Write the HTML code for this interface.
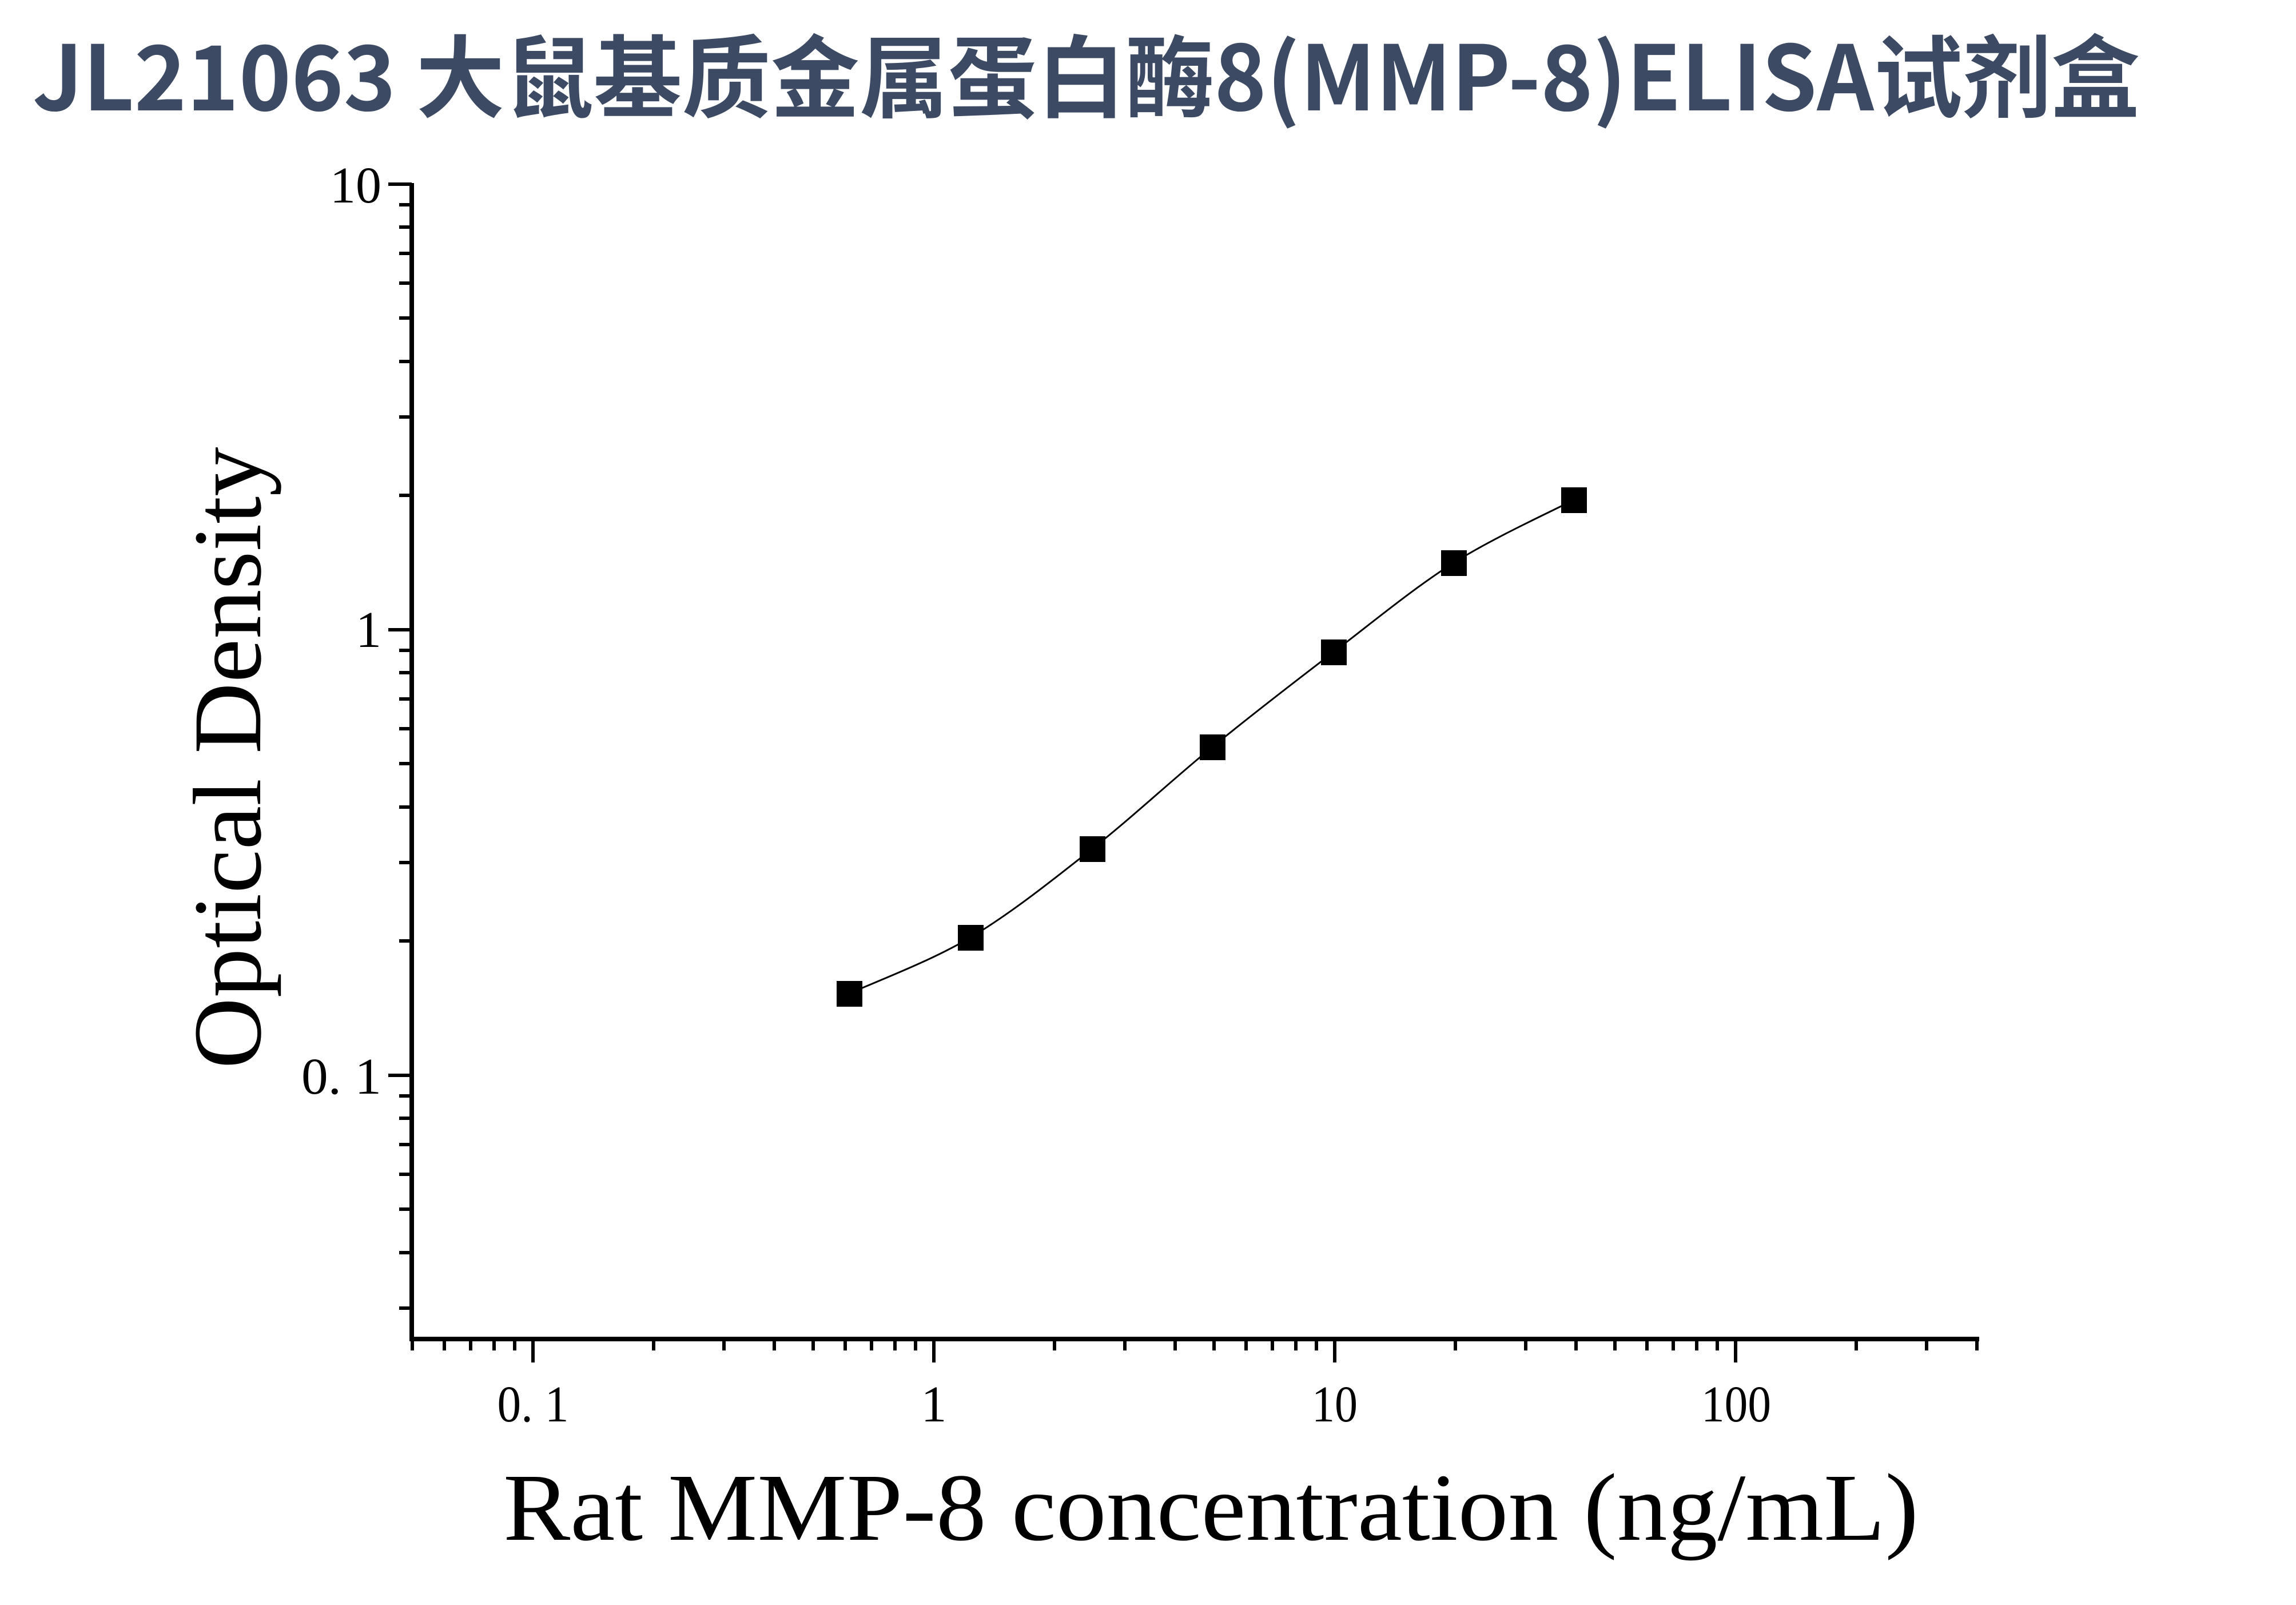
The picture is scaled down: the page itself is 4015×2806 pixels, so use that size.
<!DOCTYPE html>
<html><head><meta charset="utf-8"><style>html,body{margin:0;padding:0;background:#fff;}svg{display:block;}</style></head>
<body>
<svg xmlns="http://www.w3.org/2000/svg" width="4015" height="2806" viewBox="0 0 4015 2806">
<rect width="4015" height="2806" fill="#fff"/>
<text x="57" y="193" font-family="'Noto Sans CJK SC','Liberation Sans',sans-serif" font-weight="bold" font-size="157" fill="#3d4a63" textLength="3685" lengthAdjust="spacingAndGlyphs">JL21063 大鼠基质金属蛋白酶8(MMP-8)ELISA试剂盒</text>
<g stroke="#000" fill="none">
<line x1="720" y1="320" x2="720" y2="2345" stroke-width="8"/>
<line x1="716" y1="2341" x2="3461" y2="2341" stroke-width="8"/>
<g stroke-width="6">
<line x1="679" y1="322" x2="720" y2="322"/>
<line x1="679" y1="1101" x2="720" y2="1101"/>
<line x1="679" y1="1880" x2="720" y2="1880"/>
<line x1="698" y1="2287" x2="720" y2="2287"/>
<line x1="698" y1="2190" x2="720" y2="2190"/>
<line x1="698" y1="2114" x2="720" y2="2114"/>
<line x1="698" y1="2053" x2="720" y2="2053"/>
<line x1="698" y1="2001" x2="720" y2="2001"/>
<line x1="698" y1="1955" x2="720" y2="1955"/>
<line x1="698" y1="1916" x2="720" y2="1916"/>
<line x1="698" y1="1645" x2="720" y2="1645"/>
<line x1="698" y1="1508" x2="720" y2="1508"/>
<line x1="698" y1="1411" x2="720" y2="1411"/>
<line x1="698" y1="1335" x2="720" y2="1335"/>
<line x1="698" y1="1274" x2="720" y2="1274"/>
<line x1="698" y1="1222" x2="720" y2="1222"/>
<line x1="698" y1="1176" x2="720" y2="1176"/>
<line x1="698" y1="1137" x2="720" y2="1137"/>
<line x1="698" y1="866" x2="720" y2="866"/>
<line x1="698" y1="729" x2="720" y2="729"/>
<line x1="698" y1="632" x2="720" y2="632"/>
<line x1="698" y1="556" x2="720" y2="556"/>
<line x1="698" y1="495" x2="720" y2="495"/>
<line x1="698" y1="443" x2="720" y2="443"/>
<line x1="698" y1="397" x2="720" y2="397"/>
<line x1="698" y1="358" x2="720" y2="358"/>
</g>
<g stroke-width="6">
<line x1="932" y1="2341" x2="932" y2="2382"/>
<line x1="1633" y1="2341" x2="1633" y2="2382"/>
<line x1="2334" y1="2341" x2="2334" y2="2382"/>
<line x1="3035" y1="2341" x2="3035" y2="2382"/>
<line x1="721" y1="2341" x2="721" y2="2361"/>
<line x1="777" y1="2341" x2="777" y2="2361"/>
<line x1="823" y1="2341" x2="823" y2="2361"/>
<line x1="864" y1="2341" x2="864" y2="2361"/>
<line x1="900" y1="2341" x2="900" y2="2361"/>
<line x1="1143" y1="2341" x2="1143" y2="2361"/>
<line x1="1266" y1="2341" x2="1266" y2="2361"/>
<line x1="1354" y1="2341" x2="1354" y2="2361"/>
<line x1="1422" y1="2341" x2="1422" y2="2361"/>
<line x1="1478" y1="2341" x2="1478" y2="2361"/>
<line x1="1524" y1="2341" x2="1524" y2="2361"/>
<line x1="1565" y1="2341" x2="1565" y2="2361"/>
<line x1="1601" y1="2341" x2="1601" y2="2361"/>
<line x1="1844" y1="2341" x2="1844" y2="2361"/>
<line x1="1967" y1="2341" x2="1967" y2="2361"/>
<line x1="2055" y1="2341" x2="2055" y2="2361"/>
<line x1="2123" y1="2341" x2="2123" y2="2361"/>
<line x1="2179" y1="2341" x2="2179" y2="2361"/>
<line x1="2225" y1="2341" x2="2225" y2="2361"/>
<line x1="2266" y1="2341" x2="2266" y2="2361"/>
<line x1="2302" y1="2341" x2="2302" y2="2361"/>
<line x1="2545" y1="2341" x2="2545" y2="2361"/>
<line x1="2668" y1="2341" x2="2668" y2="2361"/>
<line x1="2756" y1="2341" x2="2756" y2="2361"/>
<line x1="2824" y1="2341" x2="2824" y2="2361"/>
<line x1="2880" y1="2341" x2="2880" y2="2361"/>
<line x1="2926" y1="2341" x2="2926" y2="2361"/>
<line x1="2967" y1="2341" x2="2967" y2="2361"/>
<line x1="3003" y1="2341" x2="3003" y2="2361"/>
<line x1="3246" y1="2341" x2="3246" y2="2361"/>
<line x1="3369" y1="2341" x2="3369" y2="2361"/>
<line x1="3457" y1="2341" x2="3457" y2="2361"/>
</g>
</g>
<g font-family="'Liberation Serif',serif" font-size="90" fill="#000">
<text x="667" y="354" text-anchor="end">10</text>
<text x="667" y="1131" text-anchor="end">1</text>
<text x="667" y="1912" text-anchor="end" textLength="140" lengthAdjust="spacingAndGlyphs">0. 1</text>
<text x="932" y="2485" text-anchor="middle" textLength="125" lengthAdjust="spacingAndGlyphs">0. 1</text>
<text x="1633" y="2485" text-anchor="middle">1</text>
<text x="2334" y="2485" text-anchor="middle" textLength="80" lengthAdjust="spacingAndGlyphs">10</text>
<text x="3036" y="2485" text-anchor="middle" textLength="122" lengthAdjust="spacingAndGlyphs">100</text>
</g>
<text transform="translate(455,1325) rotate(-90)" text-anchor="middle" font-family="'Liberation Serif',serif" font-size="170" textLength="1087" lengthAdjust="spacingAndGlyphs">Optical Density</text>
<text x="880" y="2692" font-family="'Liberation Serif',serif" font-size="168" textLength="2475" lengthAdjust="spacingAndGlyphs">Rat MMP-8 concentration (ng/mL)</text>
<path fill="none" stroke="#000" stroke-width="3" d="M1485,1737 C1520.3,1720.7 1626.2,1681.2 1697,1639 C1767.8,1596.8 1839.5,1539.5 1910,1484 C1980.5,1428.5 2049.7,1363.3 2120,1306 C2190.3,1248.7 2261.7,1193.7 2332,1140 C2402.3,1086.3 2472,1028.3 2542,984 C2612,939.7 2717,892.3 2752,874"/>
<g fill="#000">
<rect x="1463" y="1715" width="45" height="45"/>
<rect x="1675" y="1617" width="45" height="45"/>
<rect x="1888" y="1462" width="45" height="45"/>
<rect x="2098" y="1284" width="45" height="45"/>
<rect x="2310" y="1118" width="45" height="45"/>
<rect x="2520" y="962" width="45" height="45"/>
<rect x="2730" y="852" width="45" height="45"/>
</g>
</svg>
</body></html>
